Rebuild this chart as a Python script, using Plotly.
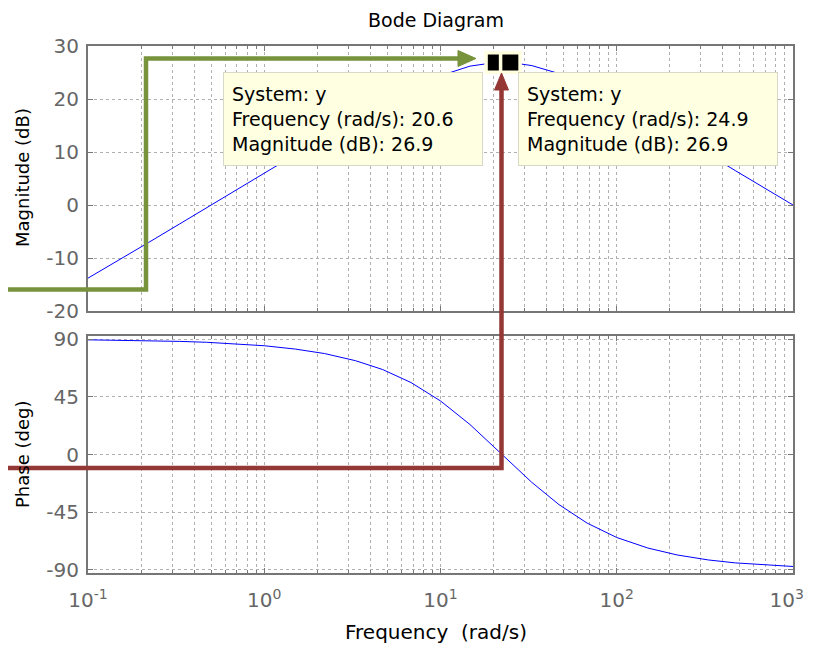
import plotly.graph_objects as go

# ---------------- data ----------------
freq = [0.1, 0.15, 0.22, 0.33, 0.47, 0.58, 0.7, 1.0, 1.5, 2.2, 3.3, 4.7, 6.8, 10,
        14.7, 20.6, 24.9, 33, 47, 68, 100, 150, 220, 330, 470, 680, 1000]
mag_db = [-13.8, -10.4, -7.1, -3.6, -0.5, 1.3, 2.9, 6.0, 9.5, 12.8, 16.2, 19.1, 21.9, 24.4,
          26.2, 26.9, 26.9, 26.3, 24.8, 22.5, 19.6, 16.3, 13.1, 9.6, 6.5, 3.3, 0.0]
phase_deg = [89.5, 89.2, 88.9, 88.3, 87.6, 87.0, 86.4, 84.9, 82.3, 78.8, 73.2, 66.3, 56.2, 41.8,
             23.4, 4.7, -6.2, -21.8, -39.1, -53.6, -64.8, -73.0, -78.4, -82.3, -84.6, -86.2, -87.4]

tip_freq = [20.6, 24.9]
tip_mag = [26.9, 26.9]
tip_texts = ["System: y<br>Frequency (rad/s): 20.6<br>Magnitude (dB): 26.9",
             "System: y<br>Frequency (rad/s): 24.9<br>Magnitude (dB): 26.9"]

x_tick_vals = [0.1, 1, 10, 100, 1000]
x_tick_text = ["10<sup>-1</sup>", "10<sup>0</sup>", "10<sup>1</sup>", "10<sup>2</sup>",
               "10<sup>3</sup>&nbsp;&nbsp;"]
mag_ticks = [-20, -10, 0, 10, 20, 30]
mag_tick_text = ["-20", "-10", "0", "10", "20", "30"]
phase_ticks = [-90, -45, 0, 45, 90]
phase_tick_text = ["-90", "-45", "0", "45", "90"]

title_text = "Bode Diagram"
mag_label = "Magnitude (dB)"
phase_label = "Phase (deg)"
freq_label = "Frequency  (rad/s)"

# ---------------- layout helpers ----------------
OFF = 8                      # default body margin of the html page
W, H = 813 - 2 * OFF, 652 - 2 * OFF
ML, MT = 88 - OFF, 46 - OFF
PW, PH = 705, 527
MR, MB = W - ML - PW, H - MT - PH


def px(x):
    """page pixel x -> plot-area fraction"""
    return (x - OFF - ML) / PW


def py(y):
    """page pixel y -> plot-area fraction"""
    return (MT + PH - (y - OFF)) / PH


def cx(x):
    return (x - OFF) / W


def cy(y):
    return 1 - (y - OFF) / H


minor_vals = [k * 10 ** d for d in range(-1, 3) for k in range(2, 10)]

FONT = "DejaVu Sans, Verdana, sans-serif"
AXC = "#767676"
GRIDC = "#b0b0b0"
TICKC = "#666666"

fig = go.Figure()
fig.add_trace(go.Scatter(x=freq, y=mag_db, xaxis="x", yaxis="y", mode="lines",
                         line=dict(color="#0000ff", width=1), hoverinfo="skip"))
fig.add_trace(go.Scatter(x=freq, y=phase_deg, xaxis="x2", yaxis="y2", mode="lines",
                         line=dict(color="#0000ff", width=1), hoverinfo="skip"))
fig.add_trace(go.Scatter(x=tip_freq, y=tip_mag, xaxis="x", yaxis="y", mode="markers",
                         marker=dict(symbol="square", size=19.5, color="black",
                                     line=dict(color="#ffffe0", width=3.5)),
                         cliponaxis=False, hoverinfo="skip"))

common_x = dict(type="log", range=[-1, 3], tickmode="array", tickvals=x_tick_vals,
                ticks="inside", ticklen=5, tickcolor=AXC, mirror="allticks",
                showline=True, linecolor=AXC, linewidth=2, automargin=False,
                showgrid=True, gridcolor=GRIDC, griddash="dot", gridwidth=1,
                minor=dict(tickmode="array", tickvals=minor_vals, ticks="inside", ticklen=3,
                           tickcolor=AXC, showgrid=True, gridcolor=GRIDC, griddash="dot",
                           gridwidth=1),
                zeroline=False)
common_y = dict(ticks="inside", ticklen=5, tickcolor=AXC, mirror="allticks",
                showline=True, linecolor=AXC, linewidth=2, automargin=False,
                showgrid=True, gridcolor=GRIDC, griddash="dot", gridwidth=1,
                zeroline=False, ticklabelstandoff=3,
                tickfont=dict(family=FONT, size=20, color=TICKC))

fig.update_layout(
    width=W, height=H,
    margin=dict(l=ML, r=MR, t=MT, b=MB, autoexpand=False),
    paper_bgcolor="white", plot_bgcolor="white",
    showlegend=False,
    font=dict(family=FONT, color="black"),
    title=dict(text=title_text, xref="container", yref="container",
               x=cx(436), xanchor="center", y=cy(20), yanchor="middle",
               font=dict(family=FONT, size=19, color="black")),
    xaxis=dict(common_x, domain=[0, 1], anchor="y", showticklabels=False),
    yaxis=dict(common_y, domain=[py(311), 1], anchor="x", range=[-20, 30],
               tickmode="array", tickvals=mag_ticks, ticktext=mag_tick_text),
    xaxis2=dict(common_x, domain=[0, 1], anchor="y2", ticktext=x_tick_text,
                ticklabelstandoff=8, ticklabeloverflow="allow",
                tickfont=dict(family=FONT, size=20, color=TICKC)),
    yaxis2=dict(common_y, domain=[0, py(336)], anchor="x2", range=[-92.5, 92.5],
                tickmode="array", tickvals=phase_ticks, ticktext=phase_tick_text),
)

annotations = [
    dict(text=mag_label, xref="paper", yref="paper", x=px(22), y=py(178), textangle=-90,
         showarrow=False, xanchor="center", yanchor="middle",
         font=dict(family=FONT, size=18, color="black")),
    dict(text=phase_label, xref="paper", yref="paper", x=px(22), y=py(455), textangle=-90,
         showarrow=False, xanchor="center", yanchor="middle",
         font=dict(family=FONT, size=18, color="black")),
    dict(text=freq_label, xref="paper", yref="paper", x=px(436), y=py(632),
         showarrow=False, xanchor="center", yanchor="middle",
         font=dict(family=FONT, size=20, color="black")),
]
for left, txt in zip([223, 518], tip_texts):
    annotations.append(dict(text=txt, xref="paper", yref="paper", x=px(left), y=py(72),
                            xanchor="left", yanchor="top", align="left", valign="middle",
                            showarrow=False, width=242, height=76, borderpad=8,
                            bgcolor="#ffffe1", bordercolor="#d8d8c8", borderwidth=1,
                            font=dict(family=FONT, size=19, color="black")))
fig.update_layout(annotations=annotations)

GREEN = "#77933c"
RED = "#953735"
LW = 4.5


def P(x, y):
    return f"{px(x):.5f},{py(y):.5f}"


shapes = [
    dict(type="path", xref="paper", yref="paper",
         path=f"M{P(-5, 289.5)} L{P(146, 289.5)} L{P(146, 58.5)} L{P(462, 58.5)}",
         line=dict(color=GREEN, width=LW), layer="above"),
    dict(type="path", xref="paper", yref="paper",
         path=f"M{P(476, 58.5)} L{P(458, 50.5)} L{P(458, 66.5)} Z",
         line=dict(color=GREEN, width=1), fillcolor=GREEN, layer="above"),
    dict(type="path", xref="paper", yref="paper",
         path=f"M{P(-5, 468)} L{P(501.5, 468)} L{P(501.5, 88)}",
         line=dict(color=RED, width=LW), layer="above"),
    dict(type="path", xref="paper", yref="paper",
         path=f"M{P(501.5, 73)} L{P(494.5, 90)} L{P(508.5, 90)} Z",
         line=dict(color=RED, width=1), fillcolor=RED, layer="above"),
]
fig.update_layout(shapes=shapes)

fig.write_html("out.html", config={"displayModeBar": False})
